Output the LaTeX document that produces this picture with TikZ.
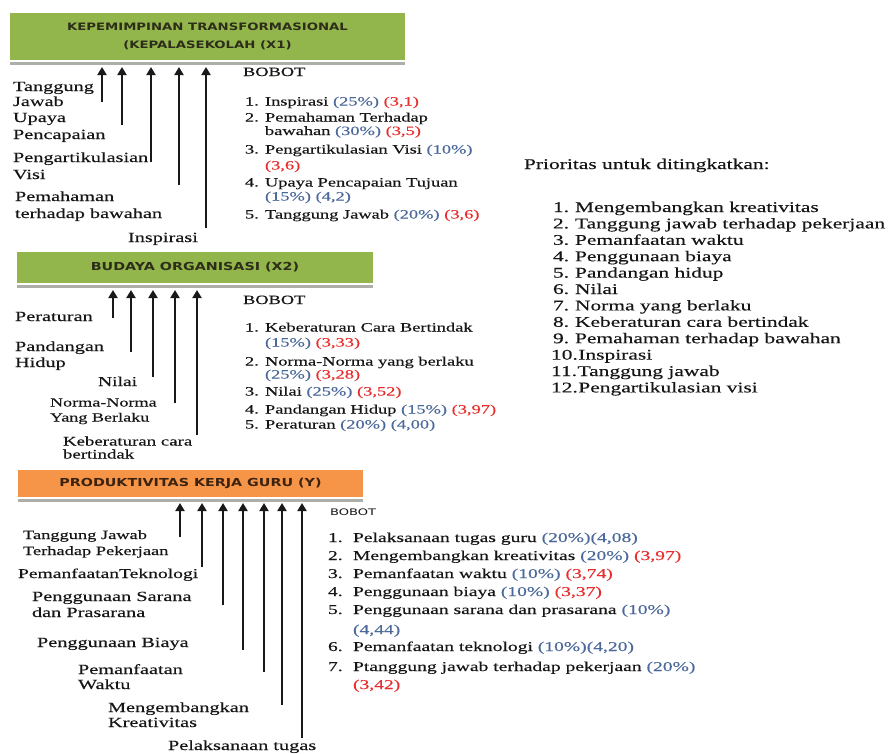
\documentclass[tikz,border=0pt]{standalone}
\usepackage{fontspec}
\usetikzlibrary{arrows.meta}
\setmainfont{Liberation Serif}[FakeStretch=1.45,FakeBold=0.25]
\newfontfamily\hdfont{DejaVu Sans}[FakeStretch=1.3]
\newfontfamily\smallsans{DejaVu Sans}[FakeStretch=1.45]
\definecolor{boxgreen}{RGB}{146,182,76}
\definecolor{boxorange}{RGB}{246,148,72}
\definecolor{shadowc}{RGB}{175,175,170}
\definecolor{txt}{RGB}{22,22,22}
\definecolor{hdtxt}{RGB}{45,45,25}
\definecolor{hdtxtb}{RGB}{60,35,15}
\definecolor{pctblue}{RGB}{75,105,155}
\definecolor{valred}{RGB}{232,45,45}
\definecolor{arrowc}{RGB}{25,25,25}
\newcommand{\pcb}[1]{\textcolor{pctblue}{#1}}
\newcommand{\redv}[1]{\textcolor{valred}{#1}}
\newcommand{\lblfont}{\fontsize{14}{16}\selectfont}
\newcommand{\lstfont}{\fontsize{12.7}{14}\selectfont}
\newcommand{\ylstfont}{\fontsize{13.5}{15}\selectfont}
\newcommand{\prfont}{\fontsize{14.8}{16}\selectfont}
\begin{document}
\begin{tikzpicture}[x=1pt,y=-1pt,
  lbl/.style={anchor=base west,inner sep=0pt,outer sep=0pt,text=txt,font=\lblfont},
  lst/.style={anchor=base west,inner sep=0pt,outer sep=0pt,text=txt,font=\lstfont},
  ylst/.style={anchor=base west,inner sep=0pt,outer sep=0pt,text=txt,font=\ylstfont},
  plist/.style={anchor=base west,inner sep=0pt,outer sep=0pt,text=txt,font=\prfont},
  gbox/.style={fill=boxgreen,draw=none,inner sep=0pt,align=center,text=hdtxt},
  obox/.style={fill=boxorange,draw=none,inner sep=0pt,align=center,text=hdtxtb},
  arr/.style={draw=arrowc,line width=2pt,-{Triangle[width=9pt,length=8pt]}}]
\clip (0,0) rectangle (892,753);
\fill[white] (0,0) rectangle (892,753);

% ---------- Box X1 ----------
\fill[shadowc] (10,62) rectangle (405,64.5);
\node[gbox,minimum width=395pt,minimum height=47pt,font=\hdfont\bfseries\fontsize{10.2}{18}\selectfont] (x1) at (207.5,36.5)
  {KEPEMIMPINAN TRANSFORMASIONAL\\(KEPALASEKOLAH (X1)};

\foreach \n/\x/\yb in {1/102/102,2/122/125,3/151/162,4/179/185,5/206/228}{
  \coordinate (xs\n) at (\x,\yb);
  \coordinate (xe\n) at (\x,67);
  \draw[arr] (xs\n) -- (xe\n);
}
\node[lbl] (l1a) at (13,91) {Tanggung};
\node[lbl] (l1b) at (13,106) {Jawab};
\node[lbl] (l2a) at (13,122) {Upaya};
\node[lbl] (l2b) at (13,139) {Pencapaian};
\node[lbl] (l3a) at (13,162) {Pengartikulasian};
\node[lbl] (l3b) at (13,179) {Visi};
\node[lbl] (l4a) at (15,201) {Pemahaman};
\node[lbl] (l4b) at (15,218) {terhadap bawahan};
\node[lbl] (l5a) at (128,242) {Inspirasi};

\node[lst] (b1) at (243,76) {BOBOT};
\node[lst] (b1n1) at (245,105.5) {1.};
\node[lst] (b1t1) at (265,105.5) {Inspirasi \pcb{(25\%)} \redv{(3,1)}};
\node[lst] (b1n2) at (245,121.5) {2.};
\node[lst] (b1t2) at (265,121.5) {Pemahaman Terhadap};
\node[lst] (b1t2b) at (265,135) {bawahan \pcb{(30\%)} \redv{(3,5)}};
\node[lst] (b1n3) at (245,153.5) {3.};
\node[lst] (b1t3) at (265,153.5) {Pengartikulasian Visi \pcb{(10\%)}};
\node[lst] (b1t3b) at (265,169.5) {\redv{(3,6)}};
\node[lst] (b1n4) at (245,186.5) {4.};
\node[lst] (b1t4) at (265,186.5) {Upaya Pencapaian Tujuan};
\node[lst] (b1t4b) at (265,200.5) {\pcb{(15\%) (4,2)}};
\node[lst] (b1n5) at (245,218.5) {5.};
\node[lst] (b1t5) at (265,218.5) {Tanggung Jawab \pcb{(20\%)} \redv{(3,6)}};

% ---------- Priorities ----------
\node[plist] (ph) at (524,169) {Prioritas untuk ditingkatkan:};
\foreach \t [count=\i] in {Mengembangkan kreativitas,Tanggung jawab terhadap pekerjaan,Pemanfaatan waktu,Penggunaan biaya,Pandangan hidup,Nilai,Norma yang berlaku,Keberaturan cara  bertindak,Pemahaman terhadap bawahan}{
  \node[plist] (pn\i) at (553,{212+16.4*(\i-1)}) {\i.};
  \node[plist] (pt\i) at (575,{212+16.4*(\i-1)}) {\t};
}
\foreach \t [count=\j from 10] in {Inspirasi,Tanggung jawab,Pengartikulasian visi}{
  \node[plist] (pn\j) at (551,{212+16.4*(\j-1)}) {\j.};
  \node[plist] (pt\j) at ([xshift=0.5pt]pn\j.base east) {\t};
}

% ---------- Box X2 ----------
\fill[shadowc] (17,285) rectangle (373,288);
\node[gbox,minimum width=356pt,minimum height=31pt,font=\hdfont\bfseries\fontsize{11}{13}\selectfont] (x2) at (195,267.5)
  {BUDAYA ORGANISASI (X2)};

\foreach \n/\x/\yb in {1/113/318,2/131/352,3/153/377,4/175/403,5/197/435}{
  \coordinate (ys\n) at (\x,\yb);
  \coordinate (ye\n) at (\x,290);
  \draw[arr] (ys\n) -- (ye\n);
}
\node[lbl] (m1) at (15,321) {Peraturan};
\node[lbl] (m2a) at (15,351) {Pandangan};
\node[lbl] (m2b) at (15,367) {Hidup};
\node[lbl,font=\fontsize{13.5}{15}\selectfont] (m3) at (98,386) {Nilai};
\node[lbl,font=\fontsize{12.5}{14}\selectfont] (m4a) at (50,406.5) {Norma-Norma};
\node[lbl,font=\fontsize{12.5}{14}\selectfont] (m4b) at (50,421.5) {Yang Berlaku};
\node[lbl,font=\fontsize{13}{14}\selectfont] (m5a) at (63,445.5) {Keberaturan cara};
\node[lbl,font=\fontsize{13}{14}\selectfont] (m5b) at (63,458.5) {bertindak};

\node[lst] (b2) at (243,304) {BOBOT};
\node[lst] (b2n1) at (245,331.5) {1.};
\node[lst] (b2t1) at (265,331.5) {Keberaturan Cara Bertindak};
\node[lst] (b2t1b) at (265,346.5) {\pcb{(15\%)} \redv{(3,33)}};
\node[lst] (b2n2) at (245,365.5) {2.};
\node[lst] (b2t2) at (265,365.5) {Norma-Norma yang berlaku};
\node[lst] (b2t2b) at (265,378.5) {\pcb{(25\%)} \redv{(3,28)}};
\node[lst] (b2n3) at (245,395.5) {3.};
\node[lst] (b2t3) at (265,395.5) {Nilai \pcb{(25\%)} \redv{(3,52)}};
\node[lst] (b2n4) at (245,413.5) {4.};
\node[lst] (b2t4) at (265,413.5) {Pandangan Hidup \pcb{(15\%)} \redv{(3,97)}};
\node[lst] (b2n5) at (245,428.5) {5.};
\node[lst] (b2t5) at (265,428.5) {Peraturan \pcb{(20\%) (4,00)}};

% ---------- Box Y ----------
\fill[shadowc] (18,499) rectangle (363,502);
\node[obox,minimum width=345pt,minimum height=27pt,font=\hdfont\bfseries\fontsize{11}{13}\selectfont] (yb) at (190.5,483.5)
  {PRODUKTIVITAS KERJA GURU (Y)};

\foreach \n/\x/\yb in {1/180/537,2/202/567,3/223/605,4/243/650,5/264/672,6/282/705,7/302/738}{
  \coordinate (zs\n) at (\x,\yb);
  \coordinate (ze\n) at (\x,503);
  \draw[arr] (zs\n) -- (ze\n);
}
\node[lbl,font=\fontsize{12.7}{14}\selectfont] (n1a) at (23,539) {Tanggung Jawab};
\node[lbl,font=\fontsize{12.7}{14}\selectfont] (n1b) at (23,555) {Terhadap Pekerjaan};
\node[lbl,font=\fontsize{13.5}{15}\selectfont] (n2) at (18,578) {PemanfaatanTeknologi};
\node[lbl] (n3a) at (32,601) {Penggunaan Sarana};
\node[lbl] (n3b) at (32,617) {dan Prasarana};
\node[lbl] (n4) at (37,647) {Penggunaan Biaya};
\node[lbl] (n5a) at (78,674) {Pemanfaatan};
\node[lbl] (n5b) at (78,689) {Waktu};
\node[lbl] (n6a) at (108,712) {Mengembangkan};
\node[lbl] (n6b) at (108,727) {Kreativitas};
\node[lbl] (n7) at (168,750) {Pelaksanaan tugas};

\node[anchor=base west,inner sep=0pt,text=txt,font=\smallsans\fontsize{9}{10}\selectfont] (b3) at (330,515) {BOBOT};
\node[ylst] (b3n1) at (328,542) {1.};
\node[ylst] (b3t1) at (353,542) {Pelaksanaan tugas guru \pcb{(20\%)(4,08)}};
\node[ylst] (b3n2) at (328,560) {2.};
\node[ylst] (b3t2) at (353,560) {Mengembangkan kreativitas \pcb{(20\%)} \redv{(3,97)}};
\node[ylst] (b3n3) at (328,578) {3.};
\node[ylst] (b3t3) at (353,578) {Pemanfaatan waktu \pcb{(10\%)} \redv{(3,74)}};
\node[ylst] (b3n4) at (328,596) {4.};
\node[ylst] (b3t4) at (353,596) {Penggunaan biaya \pcb{(10\%)} \redv{(3,37)}};
\node[ylst] (b3n5) at (328,614) {5.};
\node[ylst] (b3t5) at (353,614) {Penggunaan sarana dan prasarana \pcb{(10\%)}};
\node[ylst] (b3t5b) at (353,634) {\pcb{(4,44)}};
\node[ylst] (b3n6) at (328,651) {6.};
\node[ylst] (b3t6) at (353,651) {Pemanfaatan teknologi \pcb{(10\%)(4,20)}};
\node[ylst] (b3n7) at (328,671) {7.};
\node[ylst] (b3t7) at (353,671) {Ptanggung jawab terhadap pekerjaan \pcb{(20\%)}};
\node[ylst] (b3t7b) at (353,689) {\redv{(3,42)}};
\end{tikzpicture}
\end{document}
